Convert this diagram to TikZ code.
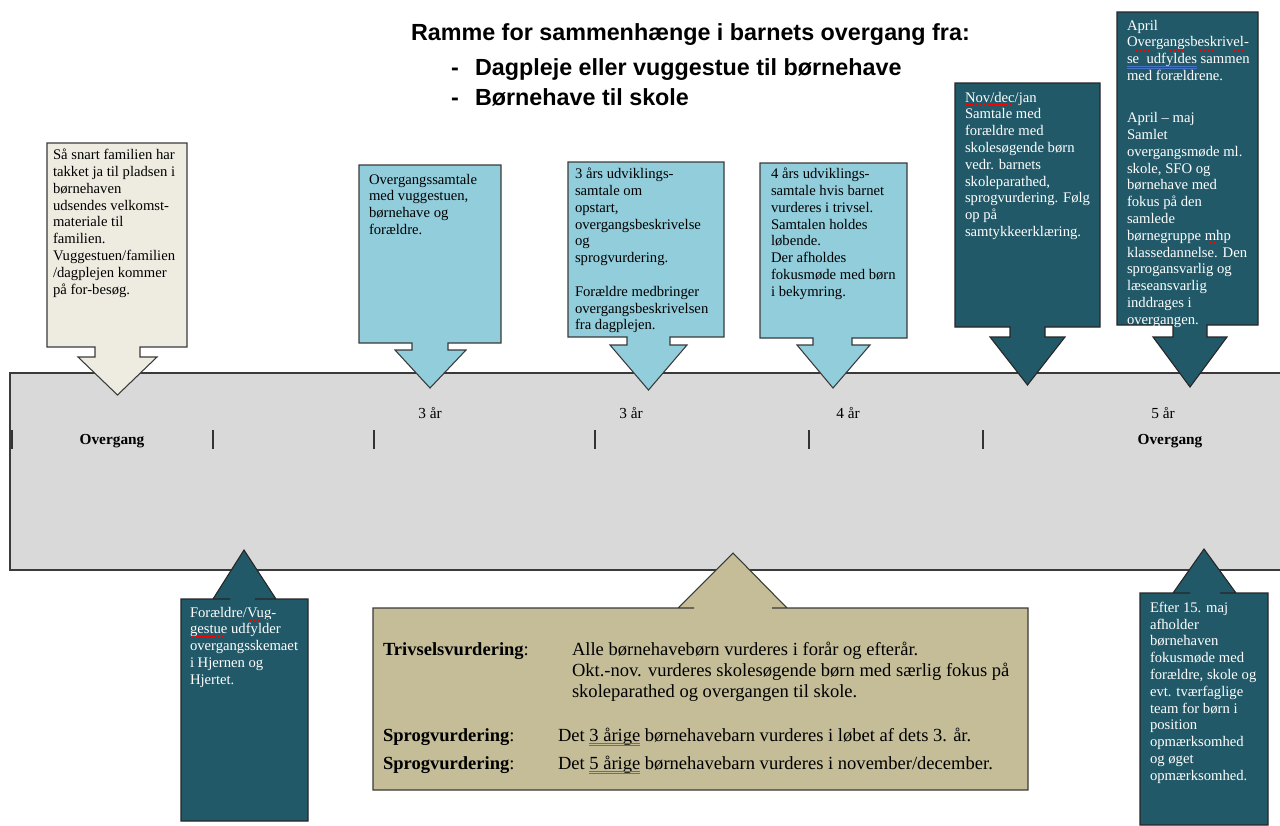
\documentclass[tikz,border=0pt]{standalone}
\usepackage{fontspec}
\setmainfont{Liberation Serif}
\newfontfamily\arialfont{Liberation Sans}
\definecolor{cream}{HTML}{EEECE1}
\definecolor{lblue}{HTML}{92CDDC}
\definecolor{dteal}{HTML}{215968}
\definecolor{tan}{HTML}{C4BD97}
\definecolor{band}{HTML}{D9D9D9}
\definecolor{edge}{HTML}{3A3A3A}
\definecolor{spellblue}{HTML}{4472C4}
\newsavebox\spellbox
\newcommand\spellred[1]{\sbox\spellbox{#1}\rlap{\usebox\spellbox}{\color{red}\leaders\hbox{\raisebox{-2.8pt}{\rule{0.8pt}{0.6pt}}\raisebox{-2.3pt}{\rule{0.8pt}{0.6pt}}\raisebox{-1.8pt}{\rule{0.8pt}{0.6pt}}\raisebox{-2.3pt}{\rule{0.8pt}{0.6pt}}}\hskip\wd\spellbox}}
\newcommand\spelldbl[1]{\sbox\spellbox{#1}\rlap{\usebox\spellbox}{\color{spellblue}\rlap{\rule[-2.2pt]{\wd\spellbox}{0.4pt}}\rule[-3.3pt]{\wd\spellbox}{0.4pt}}}
\begin{document}
\begin{tikzpicture}[x=0.75pt,y=-0.75pt,
  every node/.style={inner sep=0pt,outer sep=0pt},
  shapeedge/.style={draw=edge,line width=0.8pt,line join=miter},
  creamshape/.style={shapeedge,fill=cream},
  blueshape/.style={shapeedge,fill=lblue},
  tealshape/.style={shapeedge,fill=dteal,draw=black!85},
  tanshape/.style={shapeedge,fill=tan},
  boxtext/.style={anchor=north west,align=left,font=\fontsize{11}{12.6}\selectfont},
  lighttext/.style={boxtext,text=white},
  bigtext/.style={anchor=base west,font=\fontsize{13.9}{16}\selectfont},
  titletext/.style={anchor=base west,font=\arialfont\bfseries\fontsize{17.5}{20}\selectfont},
  tick/.style={draw=black!80,line width=0.8pt},
  axislabel/.style={font=\fontsize{11.5}{13}\selectfont},
]
\useasboundingbox (0,0) rectangle (1280,825);

% title
\node[titletext] (title) at (411,40) {Ramme for sammenhænge i barnets overgang fra:};
\node[titletext] (dash1) at (451,75) {-};
\node[titletext] (sub1) at (475,75) {Dagpleje eller vuggestue til børnehave};
\node[titletext] (dash2) at (451,105) {-};
\node[titletext] (sub2) at (475,105) {Børnehave til skole};

% timeline band
\draw[draw=edge,line width=0.8pt,fill=band] (1285,373) -- (10,373) -- (10,570) -- (1285,570);

% ticks
\coordinate (k0a) at (12,430); \coordinate (k0b) at (12,449);
\draw[tick,line width=1.6pt] (k0a) -- (k0b);
\foreach \xx/\nm in {213/k1,374/k2,595/k3,809/k4,983/k5}{
  \coordinate (\nm a) at (\xx,430); \coordinate (\nm b) at (\xx,449);
  \draw[tick] (\nm a) -- (\nm b);
}
\node[axislabel] (age1) at (430,413) {3 år};
\node[axislabel] (age2) at (631,413) {3 år};
\node[axislabel] (age3) at (848,413) {4 år};
\node[axislabel] (age4) at (1163,413) {5 år};
\node[axislabel,font=\bfseries\fontsize{11.5}{13}\selectfont] (ov1) at (112,441) {Overgang};
\node[axislabel,font=\bfseries\fontsize{11.5}{13}\selectfont] (ov2) at (1170,441) {Overgang};

% down callouts
\draw[creamshape] (47,143) -- (187,143) -- (187,347) -- (140,347) -- (140,357) -- (157,357) -- (117.5,395) -- (78,357) -- (95,357) -- (95,347) -- (47,347) -- cycle;
\node[boxtext] (c1) at (53,149) {Så snart familien har\\takket ja til pladsen i\\børnehaven\\udsendes velkomst-\\materiale til\\familien.\\Vuggestuen/familien\\/dagplejen kommer\\på for-besøg.};

\draw[blueshape] (359,165) -- (501,165) -- (501,343) -- (448,343) -- (448,350) -- (466,350) -- (430,388) -- (395,350) -- (412,350) -- (412,343) -- (359,343) -- cycle;
\node[boxtext] (c2) at (369,174) {Overgangssamtale\\med vuggestuen,\\børnehave og\\forældre.};

\draw[blueshape] (568,162) -- (724,162) -- (724,337) -- (670,337) -- (670,345) -- (687,345) -- (648.5,390) -- (610,345) -- (627,345) -- (627,337) -- (568,337) -- cycle;
\node[boxtext] (c3) at (575,168) {3 års udviklings-\\samtale om\\opstart,\\overgangsbeskrivelse\\og\\sprogvurdering.\\[12.6pt]Forældre medbringer\\overgangsbeskrivelsen\\fra dagplejen.};

\draw[blueshape] (760,163) -- (907,163) -- (907,338) -- (852,338) -- (852,345) -- (870,345) -- (833,388) -- (797,345) -- (813,345) -- (813,338) -- (760,338) -- cycle;
\node[boxtext] (c4) at (771,168) {4 års udviklings-\\samtale hvis barnet\\vurderes i trivsel.\\Samtalen holdes\\løbende.\\Der afholdes\\fokusmøde med børn\\i bekymring.};

\draw[tealshape] (955,83) -- (1100,83) -- (1100,327) -- (1045,327) -- (1045,337) -- (1065,337) -- (1027.5,385) -- (990,337) -- (1010,337) -- (1010,327) -- (955,327) -- cycle;
\node[lighttext] (c5) at (965,92) {\spellred{Nov/dec}/jan\\Samtale med\\forældre med\\skolesøgende børn\\vedr. barnets\\skoleparathed,\\sprogvurdering. Følg\\op på\\samtykkeerklæring.};

\draw[tealshape] (1117,12) -- (1258,12) -- (1258,325) -- (1207,325) -- (1207,337) -- (1227,337) -- (1190,387) -- (1153,337) -- (1173,337) -- (1173,325) -- (1117,325) -- cycle;
\node[lighttext] (c6) at (1127,20) {April\\\spellred{Overgangsbeskrivel-}\\\spelldbl{se\ \ udfyldes} sammen\\med forældrene.\\[19pt]April – maj\\Samlet\\overgangsmøde ml.\\skole, SFO og\\børnehave med\\fokus på den\\samlede\\børnegruppe \spellred{mhp}\\klassedannelse. Den\\sprogansvarlig og\\læseansvarlig\\inddrages i\\overgangen.};

% up callouts
\draw[tealshape] (230,599) -- (213,599) -- (244,550) -- (276,599) -- (255,599) -- (308,599) -- (308,821) -- (181,821) -- (181,599) -- cycle;
\node[lighttext] (c7) at (190,607) {Forældre/\spellred{Vug-}\\\spellred{gestue} udfylder\\overgangsskemaet\\i Hjernen og\\Hjertet.};

\draw[tealshape] (1190,593) -- (1173,593) -- (1204,549) -- (1236,593) -- (1220,593) -- (1268,593) -- (1268,825) -- (1140,825) -- (1140,593) -- cycle;
\node[lighttext] (c9) at (1150,602) {Efter 15. maj\\afholder\\børnehaven\\fokusmøde med\\forældre, skole og\\evt. tværfaglige\\team for børn i\\position\\opmærksomhed\\og øget\\opmærksomhed.};

\draw[tanshape] (694,608) -- (678,608) -- (733,553) -- (787,608) -- (772,608) -- (1028,608) -- (1028,790) -- (373,790) -- (373,608) -- cycle;
\node[bigtext] (tr) at (383,655) {\textbf{Trivselsvurdering}:};
\node[bigtext] (tr1) at (572,655) {Alle børnehavebørn vurderes i forår og efterår.};
\node[bigtext] (tr2) at (572,676) {Okt.-nov. vurderes skolesøgende børn med særlig fokus på};
\node[bigtext] (tr3) at (572,697) {skoleparathed og overgangen til skole.};
\node[bigtext] (sp1) at (383,741) {\textbf{Sprogvurdering}:};
\node[bigtext] (sp1t) at (558,741) {Det \spelldbl{3 årige} børnehavebarn vurderes i løbet af dets 3. år.};
\node[bigtext] (sp2) at (383,769) {\textbf{Sprogvurdering}:};
\node[bigtext] (sp2t) at (558,769) {Det \spelldbl{5 årige} børnehavebarn vurderes i november/december.};
\end{tikzpicture}
\end{document}
